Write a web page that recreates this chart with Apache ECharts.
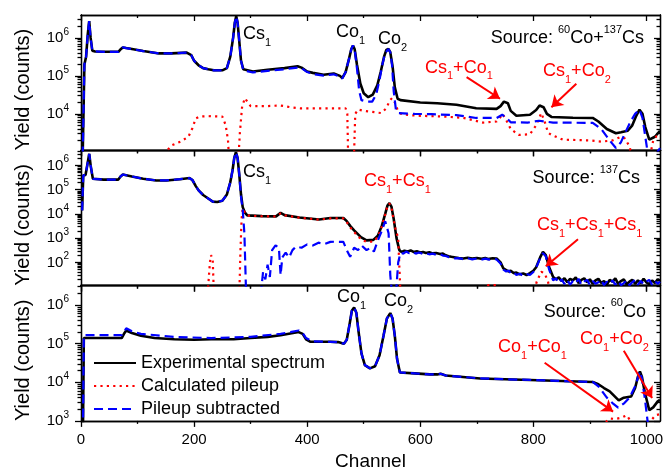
<!DOCTYPE html>
<html>
<head>
<meta charset="utf-8">
<script src="https://cdn.jsdelivr.net/npm/echarts@6.0.0/dist/echarts.min.js"></script>
<style>
html, body { margin: 0; padding: 0; background: #fff; }
#chart { width: 664px; height: 470px; }
</style>
</head>
<body>
<div id="chart"></div>
<script>
// spectra, [channel, counts]
// 60Co + 137Cs
var mixTotal = [[3, 800], [6, 2.0e5], [9, 3.2e5], [12, 1.26e6], [14.5, 2.75e6], [17, 1.0e6], [20, 4.6e5], [25, 4.4e5], [40, 4.3e5], [66, 4.3e5], [70, 5.0e5], [74, 5.6e5], [80, 5.4e5], [90, 5.1e5], [110, 4.5e5], [138, 3.9e5], [160, 3.9e5], [187, 4.1e5], [195, 3.5e5], [200, 2.5e5], [208, 1.9e5], [216, 1.6e5], [225, 1.5e5], [235, 1.4e5], [250, 1.4e5], [258, 1.6e5], [264, 3.2e5], [269, 1.0e6], [272, 2.5e6], [274.5, 3.7e6], [277, 2.5e6], [280, 7.9e5], [283, 2.5e5], [287, 1.5e5], [304, 1.3e5], [330, 1.45e5], [360, 1.6e5], [383, 1.8e5], [390, 1.65e5], [400, 1.3e5], [410, 1.2e5], [429, 1.07e5], [447, 1.15e5], [458, 1.0e5], [462, 8.7e4], [468, 1.26e5], [474, 2.8e5], [478, 5.0e5], [481, 6.3e5], [484, 5.0e5], [488, 2.0e5], [494, 6.3e4], [500, 3.5e4], [508, 2.75e4], [516, 3.2e4], [524, 5.6e4], [530, 1.26e5], [536, 3.2e5], [540, 4.8e5], [543.7, 5.1e5], [547, 4.2e5], [551, 1.8e5], [555, 5.0e4], [560, 2.5e4], [565, 2.3e4], [600, 2.0e4], [630, 1.9e4], [664, 1.74e4], [699, 1.41e4], [735, 1.35e4], [742, 1.6e4], [748, 2.1e4], [751, 2.24e4], [755, 1.9e4], [760, 1.2e4], [770, 8900], [794, 9500], [805, 1.26e4], [811, 1.66e4], [814, 1.74e4], [818, 1.5e4], [824, 1.0e4], [832, 8300], [870, 7900], [905, 7800], [915, 6300], [930, 4000], [946, 3100], [955, 3300], [967, 3600], [975, 5000], [982, 8900], [987.7, 1.29e4], [993, 1.0e4], [998, 4500], [1005, 2100], [1015, 2500], [1024, 3600]];
var mixPile = [[150, 800], [153, 1120], [161, 1500], [176, 1860], [190, 2500], [197, 4200], [203, 7600], [210, 8500], [230, 8700], [250, 8500], [256, 5000], [260, 2000], [263, 300], [277, 300], [281, 3200], [285, 1.6e4], [290, 2.6e4], [295, 2.0e4], [300, 1.6e4], [327, 1.6e4], [353, 1.66e4], [370, 1.5e4], [388, 1.4e4], [468, 1.4e4], [471, 1.0e4], [473, 300], [482, 300], [485, 1.0e4], [490, 1.3e4], [500, 1.2e4], [531, 1.05e4], [540, 1.4e4], [546, 2.24e4], [550, 2.6e4], [555, 2.0e4], [560, 1.26e4], [566, 1.0e4], [580, 9300], [600, 8900], [640, 8500], [676, 7900], [711, 5900], [735, 6300], [742, 8300], [745, 1.0e4], [750, 7900], [760, 4000], [774, 2800], [794, 2900], [805, 5000], [814, 1.05e4], [820, 6300], [826, 3200], [832, 2800], [852, 2100], [900, 2000], [920, 1860], [940, 2000], [955, 2500], [962, 2240], [970, 1400], [976, 630], [1005, 630], [1012, 2000], [1018, 2600], [1024, 2800]];
var mixSub = [[3, 800], [6, 2.0e5], [9, 3.2e5], [12, 1.26e6], [14.5, 2.75e6], [17, 1.0e6], [20, 4.6e5], [25, 4.4e5], [40, 4.3e5], [66, 4.3e5], [70, 5.0e5], [74, 5.6e5], [80, 5.4e5], [90, 5.1e5], [110, 4.5e5], [138, 3.9e5], [160, 3.9e5], [187, 4.1e5], [195, 3.5e5], [200, 2.5e5], [208, 1.9e5], [216, 1.6e5], [225, 1.5e5], [235, 1.4e5], [250, 1.4e5], [258, 1.6e5], [264, 3.2e5], [269, 1.0e6], [272, 2.5e6], [274.5, 3.7e6], [277, 2.5e6], [280, 7.9e5], [283, 2.5e5], [287, 1.4e5], [304, 1.23e5], [330, 1.35e5], [360, 1.5e5], [383, 1.65e5], [390, 1.6e5], [400, 1.26e5], [410, 1.12e5], [429, 1.02e5], [447, 1.1e5], [458, 9.5e4], [462, 8.5e4], [468, 1.26e5], [474, 2.8e5], [478, 5.0e5], [481, 6.3e5], [484, 5.0e5], [488, 1.6e5], [492, 4.0e4], [496, 2.3e4], [505, 2.1e4], [515, 2.1e4], [522, 3.2e4], [528, 7.9e4], [533, 2.0e5], [538, 4.0e5], [543.7, 5.1e5], [547, 4.2e5], [550, 2.0e5], [553, 4.0e4], [557, 1.26e4], [562, 1.05e4], [590, 1.0e4], [620, 9800], [664, 9300], [699, 7800], [735, 7800], [745, 9500], [752, 7900], [760, 6000], [790, 5900], [810, 6600], [820, 6300], [835, 5900], [905, 5800], [920, 4000], [935, 2000], [946, 1260], [955, 1800], [962, 3100], [972, 6300], [980, 1.0e4], [987.7, 1.29e4], [993, 7900], [998, 2500], [1003, 800], [1015, 800], [1024, 1260]];

// 137Cs
var csTotal = [[2, 1.4e4], [4, 3.9e5], [8, 4.0e5], [11, 1.0e6], [14.6, 3.0e6], [17, 1.0e6], [21, 2.8e5], [40, 2.6e5], [66, 2.6e5], [70, 3.5e5], [74, 4.2e5], [90, 3.5e5], [110, 2.8e5], [133, 2.4e5], [151, 2.4e5], [175, 2.7e5], [192, 3.0e5], [197, 2.5e5], [203, 1.4e5], [208, 9.3e4], [216, 6.0e4], [225, 4.3e4], [233, 3.2e4], [241, 3.1e4], [250, 3.5e4], [258, 6.3e4], [264, 2.0e5], [268, 6.3e5], [271, 2.0e6], [274, 3.5e6], [277, 2.0e6], [280, 4.0e5], [283, 6.3e4], [286, 1.9e4], [290, 1.12e4], [294, 8700], [320, 8100], [345, 7900], [353, 1.1e4], [360, 8900], [386, 7100], [421, 5900], [441, 6800], [464, 6800], [470, 5000], [476, 3200], [483, 2100], [495, 1100], [505, 810], [517, 850], [525, 1260], [532, 3200], [538, 1.0e4], [542, 2.2e4], [545.5, 2.8e4], [549, 2.0e4], [553, 6300], [558, 1000], [563, 320], [567, 270], [572, 300], [578, 280], [583, 310], [588, 270], [594, 285], [600, 255], [605, 270], [610, 245], [616, 260], [622, 235], [628, 245], [635, 220], [640, 230], [645, 195], [650, 180], [655, 170], [662, 160], [668, 150], [676, 145], [684, 155], [692, 145], [700, 152], [708, 140], [715, 150], [720, 138], [728, 148], [735, 145], [742, 100], [747, 56], [752, 48], [756, 42], [760, 45], [765, 36], [770, 38], [776, 32], [782, 35], [788, 30], [794, 36], [800, 45], [805, 63], [812, 160], [817, 270], [822, 200], [828, 63], [835, 25], [840, 20], [845, 24], [850, 17], [855, 22], [860, 15], [865, 21], [870, 18], [875, 24], [880, 14], [885, 19], [890, 22], [895, 15], [900, 20], [905, 13], [910, 18], [915, 21], [920, 14], [925, 17], [930, 12], [935, 19], [940, 16], [945, 22], [950, 13], [955, 17], [960, 20], [965, 12.5], [970, 16], [975, 19], [980, 13], [985, 18], [990, 14], [995, 21], [1000, 15], [1005, 12.5], [1010, 18], [1015, 14], [1020, 20], [1024, 17]];
var csPile = [[224, 5], [228, 100], [230, 200], [233, 120], [235, 5], [280, 5], [282, 300], [284, 6000], [286, 1.7e4], [290, 1.1e4], [294, 8500], [320, 8000], [345, 7800], [353, 1.05e4], [360, 8700], [386, 7000], [421, 5800], [441, 6500], [464, 6500], [470, 4600], [476, 2800], [483, 1800], [495, 900], [505, 700], [517, 720], [525, 1100], [532, 3000], [538, 9500], [542, 2.1e4], [545.5, 2.7e4], [549, 1.9e4], [553, 5500], [556, 2500], [561, 1000], [565, 5], [715, 5], [720, 11.5], [735, 11.5], [738, 5], [800, 5], [806, 16], [814, 41], [820, 35], [826, 16], [830, 5]];
var csSub = [[2, 1.4e4], [4, 3.9e5], [8, 4.0e5], [11, 1.0e6], [14.6, 3.0e6], [17, 1.0e6], [21, 2.8e5], [40, 2.6e5], [66, 2.6e5], [70, 3.5e5], [74, 4.2e5], [90, 3.5e5], [110, 2.8e5], [133, 2.4e5], [151, 2.4e5], [175, 2.7e5], [192, 3.0e5], [197, 2.5e5], [203, 1.4e5], [208, 9.3e4], [216, 6.0e4], [225, 4.3e4], [233, 3.2e4], [241, 3.1e4], [250, 3.5e4], [258, 6.3e4], [264, 2.0e5], [268, 6.3e5], [271, 2.0e6], [274, 3.5e6], [277, 2.0e6], [280, 4.0e5], [283, 5.0e4], [286, 1.5e4], [289, 1500], [292, 5], [318, 5], [322, 40], [326, 20], [330, 80], [334, 25], [338, 320], [344, 500], [350, 400], [353, 30], [356, 160], [362, 250], [368, 160], [374, 320], [380, 450], [390, 400], [400, 550], [410, 500], [420, 650], [430, 560], [441, 700], [450, 710], [464, 700], [470, 320], [476, 170], [483, 400], [490, 320], [496, 500], [505, 320], [512, 400], [518, 280], [525, 800], [532, 2000], [538, 5000], [541, 5500], [544, 1600], [547, 30], [550, 5], [557, 5], [561, 100], [565, 250], [570, 230], [575, 280], [580, 240], [586, 270], [592, 230], [598, 255], [604, 225], [610, 240], [616, 215], [622, 230], [628, 205], [635, 215], [640, 190], [645, 185], [650, 165], [656, 160], [662, 145], [668, 150], [676, 135], [684, 148], [692, 132], [700, 145], [708, 128], [715, 142], [722, 130], [728, 140], [735, 132], [742, 90], [747, 50], [752, 42], [756, 46], [760, 36], [765, 40], [770, 30], [776, 34], [782, 28], [788, 33], [794, 30], [800, 40], [805, 60], [812, 150], [817, 240], [822, 180], [828, 50], [835, 18], [840, 22], [845, 14], [850, 20], [855, 13], [860, 19], [865, 12], [870, 17], [875, 14], [880, 21], [885, 12], [890, 16], [895, 19], [900, 11.5], [905, 17], [910, 13], [915, 15], [920, 19], [925, 11.5], [930, 16], [935, 13], [940, 18], [945, 12], [950, 17], [955, 11.5], [960, 14], [965, 18], [970, 11.5], [975, 15], [980, 19], [985, 12], [990, 17], [995, 12.5], [1000, 16], [1005, 19], [1010, 12], [1015, 17], [1020, 13], [1024, 16]];

// 60Co
var coTotal = [[3, 100], [5, 1.4e5], [40, 1.4e5], [72, 1.4e5], [76, 1.8e5], [80, 2.2e5], [90, 1.9e5], [106, 1.6e5], [130, 1.4e5], [165, 1.3e5], [200, 1.26e5], [230, 1.3e5], [270, 1.3e5], [300, 1.4e5], [330, 1.5e5], [353, 1.65e5], [375, 1.9e5], [385, 2.0e5], [392, 1.8e5], [398, 1.3e5], [406, 1.12e5], [441, 1.12e5], [455, 1.1e5], [465, 1.0e5], [470, 1.26e5], [475, 3.2e5], [479, 7.1e5], [483, 8.7e5], [487, 6.3e5], [491, 2.0e5], [496, 5.6e4], [502, 2.8e4], [511, 2.3e4], [520, 2.6e4], [528, 5.0e4], [535, 1.6e5], [541, 4.5e5], [547, 6.2e5], [551, 4.5e5], [555, 1.6e5], [559, 4.0e4], [564, 1.8e4], [590, 1.7e4], [617, 1.6e4], [630, 1.6e4], [636, 1.66e4], [645, 1.5e4], [706, 1.26e4], [794, 1.15e4], [905, 1.02e4], [915, 8900], [925, 7100], [935, 5800], [951, 3400], [960, 4000], [973, 4300], [980, 7100], [985, 1.4e4], [988.5, 1.9e4], [992, 1.4e4], [997, 5600], [1005, 1900], [1012, 2240], [1020, 3200], [1024, 3500]];
var coPile = [[920, 300], [930, 1000], [937, 1150], [945, 1120], [955, 1200], [965, 1400], [970, 1100], [975, 300], [1006, 300], [1010, 1100], [1016, 1400], [1024, 1500]];
var coSub = [[3, 100], [5, 1.66e5], [72, 1.66e5], [76, 2.0e5], [80, 2.5e5], [90, 2.1e5], [106, 1.8e5], [165, 1.5e5], [230, 1.4e5], [300, 1.5e5], [353, 1.8e5], [385, 2.2e5], [392, 1.9e5], [398, 1.4e5], [410, 1.15e5], [441, 1.12e5], [455, 1.1e5], [465, 1.0e5], [470, 1.26e5], [475, 3.2e5], [479, 7.1e5], [483, 8.7e5], [487, 6.3e5], [491, 2.0e5], [496, 5.6e4], [502, 2.8e4], [511, 2.3e4], [520, 2.6e4], [528, 5.0e4], [535, 1.6e5], [541, 4.5e5], [547, 6.2e5], [551, 4.5e5], [555, 1.6e5], [559, 4.0e4], [564, 1.8e4], [590, 1.7e4], [617, 1.6e4], [630, 1.6e4], [636, 1.66e4], [645, 1.5e4], [706, 1.26e4], [794, 1.15e4], [905, 1.02e4], [915, 7900], [930, 4000], [940, 2900], [950, 2200], [961, 2900], [970, 4000], [980, 7900], [988.5, 1.9e4], [992, 1.26e4], [997, 4000], [1002, 1000], [1005, 300], [1024, 300]];

// arrows pointing at the sum peaks, [channel, counts] from -> to
var mixArrows = [[[682, 9.3e4], [741, 2.5e4]], [[876, 6.2e4], [832, 1.5e4]]];
var csArrows = [[[879, 890], [822, 69]]];
var coArrows = [[[820, 3.2e4], [941, 1740]], [[960, 6.6e4], [1010, 3900]]];

var seriesNames = ['Experimental spectrum', 'Calculated pileup', 'Pileup subtracted'];
var xMajor = [0, 200, 400, 600, 800, 1000];
var xMinor = [100, 300, 500, 700, 900];
var panelMin = [1100, 11, 1000];
var panelMax = [4e6, 4.2e6, 3.2e6];
var panelTicks = [[1e4, 1e5, 1e6], [1e2, 1e3, 1e4, 1e5, 1e6], [1e3, 1e4, 1e5, 1e6]];

var FONT = '"Liberation Sans", Arial, Helvetica, sans-serif';
var gridTops = [15, 150.3, 285.6];
var gridH = 135.3;

var chart = echarts.init(document.getElementById('chart'), null, {renderer: 'canvas'});

// log minor ticks 2..9 inside the panel range
function minorLog(g) {
    var out = [];
    for (var d = -1; d < 8; d++) {
        for (var k = 2; k < 10; k++) {
            var v = k * Math.pow(10, d);
            if (v > panelMin[g] && v < panelMax[g]) out.push(v);
        }
    }
    return out;
}

function powLabel(v) {
    var l = Math.log10(v), e = Math.round(l);
    if (Math.abs(l - e) > 1e-6) return '';
    return '{b|10}{p|' + e + '}';
}

var blackLine = {color: '#000', width: 1.3};

var grids = [], xAxes = [], yAxes = [], series = [];
[0, 1, 2].forEach(function (g) {
    grids.push({left: 81, right: 4, top: gridTops[g], height: gridH, containLabel: false, outerBoundsMode: 'none'});

    var xBase = {type: 'value', gridIndex: g, min: 0, max: 1024, splitLine: {show: false},
        axisLine: {show: true, onZero: false, lineStyle: blackLine}};
    xAxes.push(Object.assign({}, xBase, {
        position: 'bottom',
        axisTick: {show: true, length: 6, customValues: xMajor, lineStyle: blackLine},
        axisLabel: {show: g === 2, customValues: xMajor, margin: 11, color: '#000', fontSize: 15, fontFamily: FONT,
            formatter: function (v) { return String(v); }},
        name: g === 2 ? 'Channel' : '', nameLocation: 'middle', nameGap: 31,
        nameTextStyle: {color: '#000', fontSize: 19, fontFamily: FONT}
    }));
    xAxes.push(Object.assign({}, xBase, {position: 'bottom',
        axisTick: {show: true, length: 3, customValues: xMinor, lineStyle: blackLine}, axisLabel: {show: false}}));
    xAxes.push(Object.assign({}, xBase, {position: 'top',
        axisTick: {show: true, inside: true, length: 6, customValues: xMajor, lineStyle: blackLine}, axisLabel: {show: false}}));
    xAxes.push(Object.assign({}, xBase, {position: 'top',
        axisTick: {show: true, inside: true, length: 3, customValues: xMinor, lineStyle: blackLine}, axisLabel: {show: false}}));

    var yBase = {type: 'log', logBase: 10, gridIndex: g, min: panelMin[g], max: panelMax[g], splitLine: {show: false},
        axisLine: {show: true, onZero: false, lineStyle: blackLine}};
    yAxes.push(Object.assign({}, yBase, {
        position: 'left',
        name: 'Yield (counts)', nameLocation: 'middle', nameGap: 48,
        nameTextStyle: {color: '#000', fontSize: 20, fontFamily: FONT, padding: [0, 14, 0, 0]},
        axisTick: {show: true, length: 6, customValues: panelTicks[g], lineStyle: blackLine},
        axisLabel: {customValues: panelTicks[g], margin: 12, formatter: powLabel,
            rich: {
                b: {fontSize: 15, lineHeight: 22, color: '#000', fontFamily: FONT},
                p: {fontSize: 10, lineHeight: 10, verticalAlign: 'top', color: '#000', fontFamily: FONT}
            }}
    }));
    yAxes.push(Object.assign({}, yBase, {position: 'left',
        axisTick: {show: true, length: 3.5, customValues: minorLog(g), lineStyle: blackLine}, axisLabel: {show: false}}));
    yAxes.push(Object.assign({}, yBase, {position: 'right',
        axisTick: {show: true, inside: true, length: 6, customValues: panelTicks[g], lineStyle: blackLine}, axisLabel: {show: false}}));
    yAxes.push(Object.assign({}, yBase, {position: 'right',
        axisTick: {show: true, inside: true, length: 3.5, customValues: minorLog(g), lineStyle: blackLine}, axisLabel: {show: false}}));
});

var panelData = [[mixTotal, mixPile, mixSub], [csTotal, csPile, csSub], [coTotal, coPile, coSub]];
var panelArrows = [mixArrows, csArrows, coArrows];
var styles = [
    {color: '#000', width: 2.6, type: 'solid'},
    {color: '#ff0000', width: 2.2, type: [2.2, 4.2]},
    {color: '#0000ff', width: 2.2, type: [9, 5]}
];

[0, 1, 2].forEach(function (g) {
    [0, 1, 2].forEach(function (k) {
        var s = {
            name: seriesNames[k], type: 'line', xAxisIndex: g * 4, yAxisIndex: g * 4,
            data: panelData[g][k], symbol: 'none', showSymbol: false, clip: true,
            lineStyle: styles[k], itemStyle: {color: styles[k].color},
            z: k === 0 ? 2 : (k === 1 ? 3 : 4), silent: true
        };
        if (k === 1) {
            s.markLine = {
                silent: true, symbol: ['none', 'arrow'], symbolSize: 11,
                label: {show: false},
                lineStyle: {color: '#ff0000', width: 2, type: 'solid'},
                data: panelArrows[g].map(function (a) {
                    return [{coord: a[0]}, {coord: a[1]}];
                })
            };
        }
        series.push(s);
    });
});

function rich(color) {
    return {
        m: {fontSize: 18, lineHeight: 28, fontFamily: FONT, fill: color},
        s: {fontSize: 11, lineHeight: 12, verticalAlign: 'bottom', fontFamily: FONT, fill: color},
        p: {fontSize: 11, lineHeight: 12, verticalAlign: 'top', fontFamily: FONT, fill: color}
    };
}

function label(x, y, text, color, align) {
    return {
        type: 'text', x: x, y: y, silent: true, z: 100,
        style: {text: text, rich: rich(color), fill: color, font: '18px ' + FONT,
            align: align || 'left', verticalAlign: 'middle',
            textAlign: align || 'left', textVerticalAlign: 'middle'}
    };
}

var graphics = [
    label(243, 34, '{m|Cs}{s|1}', '#000'),
    label(336, 32.5, '{m|Co}{s|1}', '#000'),
    label(378, 39, '{m|Co}{s|2}', '#000'),
    label(644, 38.5, '{m|Source: }{p|60}{m|Co+}{p|137}{m|Cs}', '#000', 'right'),
    label(425, 67.7, '{m|Cs}{s|1}{m|+Co}{s|1}', '#ff0000'),
    label(543, 71, '{m|Cs}{s|1}{m|+Co}{s|2}', '#ff0000'),
    label(243, 172.5, '{m|Cs}{s|1}', '#000'),
    label(640, 178, '{m|Source: }{p|137}{m|Cs}', '#000', 'right'),
    label(364, 181, '{m|Cs}{s|1}{m|+Cs}{s|1}', '#ff0000'),
    label(537, 225.5, '{m|Cs}{s|1}{m|+Cs}{s|1}{m|+Cs}{s|1}', '#ff0000'),
    label(337, 297.5, '{m|Co}{s|1}', '#000'),
    label(384, 301, '{m|Co}{s|2}', '#000'),
    label(646, 311.7, '{m|Source: }{p|60}{m|Co}', '#000', 'right'),
    label(498, 347.5, '{m|Co}{s|1}{m|+Co}{s|1}', '#ff0000'),
    label(580, 339, '{m|Co}{s|1}{m|+Co}{s|2}', '#ff0000')
];

chart.setOption({
    animation: false,
    backgroundColor: '#fff',
    textStyle: {fontFamily: FONT},
    grid: grids,
    xAxis: xAxes,
    yAxis: yAxes,
    legend: {
        data: seriesNames, orient: 'vertical', left: 88, top: 348,
        itemWidth: 42, itemHeight: 14, itemGap: 3, selectedMode: false,
        itemStyle: {opacity: 0},
        textStyle: {color: '#000', fontSize: 18, lineHeight: 20, fontFamily: FONT}
    },
    series: series,
    graphic: graphics
});

window.onresize = function () {
    chart.resize();
};
</script>
</body>
</html>
